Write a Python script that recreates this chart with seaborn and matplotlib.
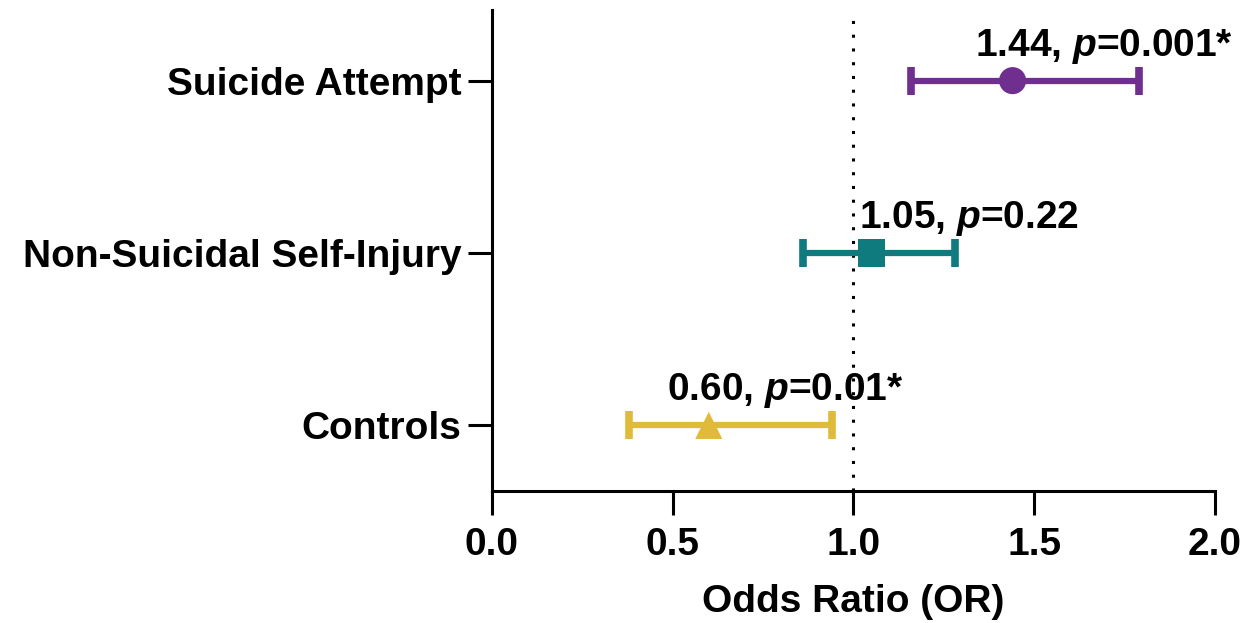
import numpy as np
import pandas as pd
import matplotlib.pyplot as plt
import seaborn as sns

sns.set_style("ticks")
plt.rcParams['font.family'] = ['Liberation Sans', 'DejaVu Sans']
plt.rcParams['font.weight'] = 'bold'
plt.rcParams['mathtext.fontset'] = 'custom'
plt.rcParams['mathtext.rm'] = 'Liberation Sans:bold'
plt.rcParams['mathtext.it'] = 'Liberation Sans:italic:bold'

PURPLE = '#702F8F'
TEAL = '#0F7B7F'
GOLD = '#E0BB3A'

# data (bottom to top)
groups = ['Controls', 'Non-Suicidal Self-Injury', 'Suicide Attempt']
odds = [0.60, 1.05, 1.44]
ci_low = [0.38, 0.86, 1.16]
ci_high = [0.94, 1.28, 1.79]
labels = [r'0.60, $p$=0.01*', r'1.05, $p$=0.22', r'1.44, $p$=0.001*']
colors = [GOLD, TEAL, PURPLE]
markers = ['^', 's', 'o']

df = pd.DataFrame({'group': groups, 'OR': odds, 'lo': ci_low, 'hi': ci_high})
df['pos'] = np.arange(len(df))

FS = 28

fig = plt.figure(figsize=(12.45, 6.23), dpi=100)
ax = fig.add_axes([0.395, 0.212, 0.581, 0.772])

ax.axvline(1.0, color='black', linestyle=(0, (1, 3.5)), linewidth=2.2, zorder=1)

for i, r in df.iterrows():
    ax.errorbar(r['OR'], r['pos'], xerr=[[r['OR'] - r['lo']], [r['hi'] - r['OR']]],
                fmt='none', ecolor=colors[i], elinewidth=4.5, capsize=10, capthick=5.5, zorder=2)

sns.scatterplot(data=df, x='OR', y='pos', hue='group', style='group',
                palette=dict(zip(groups, colors)), markers=dict(zip(groups, markers)),
                s=380, edgecolor='none', legend=False, ax=ax, zorder=3)

# label offsets in points, placed above each point
label_dx = [-30, -9, -27]
for i, r in df.iterrows():
    ax.annotate(labels[i], xy=(r['OR'], r['pos']), xytext=(label_dx[i], 18),
                textcoords='offset points', ha='left', va='baseline',
                fontsize=FS, fontweight='bold', color='black')

ax.set_xlim(0, 2)
ax.set_ylim(-0.38, 2.41)
ax.set_xticks([0, 0.5, 1.0, 1.5, 2.0])
ax.set_xticklabels(['0.0', '0.5', '1.0', '1.5', '2.0'])
ax.set_yticks(df['pos'])
ax.set_yticklabels(groups)
ax.set_xlabel('Odds Ratio (OR)', fontsize=FS, fontweight='bold', labelpad=15, color='black')
ax.set_ylabel('')
ax.tick_params(axis='both', labelsize=FS, width=2.2, length=17, color='black',
               labelcolor='black', pad=5)
ax.tick_params(axis='x', pad=9)
for s in ['left', 'bottom']:
    ax.spines[s].set_linewidth(2.2)
    ax.spines[s].set_color('black')
ax.spines[['top', 'right']].set_visible(False)

plt.savefig('out.png', dpi=100)
